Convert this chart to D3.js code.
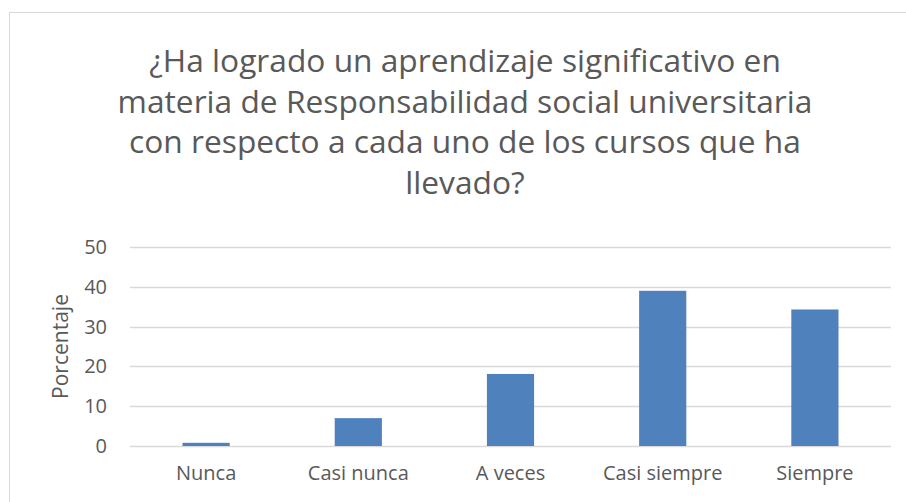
<!DOCTYPE html>
<html>
<head>
<meta charset="utf-8">
<script src="https://cdn.jsdelivr.net/npm/d3@7"></script>
<style>
  body { margin: 0; background: #fff; }
  text { font-family: "Open Sans", sans-serif; fill: #595959; }
</style>
</head>
<body>
<div id="chart"></div>
<script>
"use strict";

// data
var categories = ["Nunca", "Casi nunca", "A veces", "Casi siempre", "Siempre"];
var values = [0.8, 7.0, 18.1, 39.0, 34.3];
var yTicks = [0, 10, 20, 30, 40, 50];
var titleLines = [
  "¿Ha logrado un aprendizaje significativo en",
  "materia de Responsabilidad social universitaria",
  "con respecto a cada uno de los cursos que ha",
  "llevado?"
];
var yLabel = "Porcentaje";

var W = 906, H = 502;
var margin = { top: 247, right: 15, bottom: 56, left: 130 },
    w = W - margin.left - margin.right,
    h = H - margin.top - margin.bottom;

var svg = d3.select("#chart").append("svg")
  .attr("width", W)
  .attr("height", H);

// chart frame
svg.append("rect")
  .attr("x", 9.5).attr("y", 12.5)
  .attr("width", 930).attr("height", 520)
  .attr("fill", "none")
  .attr("stroke", "#d9d9d9")
  .attr("stroke-width", 1);

var x = d3.scaleBand()
  .domain(categories)
  .range([0, w])
  .paddingInner(0.69)
  .paddingOuter(0.345);

var y = d3.scaleLinear()
  .domain([0, 50])
  .range([h, 0]);

var g = svg.append("g")
  .attr("transform", "translate(" + margin.left + "," + margin.top + ")");

// gridlines
g.selectAll(".grid")
  .data(yTicks)
  .enter().append("line")
  .attr("class", "grid")
  .attr("x1", 0).attr("x2", w)
  .attr("y1", function(d) { return Math.round(y(d)) + 0.5; })
  .attr("y2", function(d) { return Math.round(y(d)) + 0.5; })
  .attr("stroke", "#d9d9d9")
  .attr("stroke-width", 1.3);

// bars
g.selectAll(".bar")
  .data(values)
  .enter().append("rect")
  .attr("class", "bar")
  .attr("x", function(d, i) { return x(categories[i]); })
  .attr("width", x.bandwidth())
  .attr("y", function(d) { return y(d); })
  .attr("height", function(d) { return y(0) - y(d); })
  .attr("fill", "#4f81bd");

// y axis labels
var yAxis = d3.axisLeft(y).tickValues(yTicks).tickSize(0).tickPadding(23);
g.append("g").call(yAxis)
  .call(function(s) { s.select(".domain").remove(); })
  .selectAll("text")
  .style("font-family", "'Open Sans', sans-serif")
  .style("font-size", "20px")
  .attr("fill", "#595959");

// x axis labels
var xAxis = d3.axisBottom(x).tickSize(0).tickPadding(20);
g.append("g")
  .attr("transform", "translate(0," + h + ")")
  .call(xAxis)
  .call(function(s) { s.select(".domain").remove(); })
  .selectAll("text")
  .style("font-family", "'Open Sans', sans-serif")
  .style("font-size", "20px")
  .attr("fill", "#595959");

// axis title
svg.append("text")
  .attr("transform", "translate(68," + (margin.top + h / 2) + ") rotate(-90)")
  .attr("text-anchor", "middle")
  .style("font-size", "21px")
  .text(yLabel);

// title, fitted so the widest line is about as wide as the original
var title = svg.append("g").attr("class", "title");
var titleSize = 27;
title.selectAll("text")
  .data(titleLines)
  .enter().append("text")
  .attr("x", 465)
  .attr("y", function(d, i) { return 72 + i * 40.7; })
  .attr("text-anchor", "middle")
  .style("font-size", titleSize + "px")
  .text(function(d) { return d; });

var widest = d3.max(title.selectAll("text").nodes(), function(n) { return n.getComputedTextLength(); });
titleSize = titleSize * 695 / widest;
title.selectAll("text").style("font-size", titleSize + "px");
</script>
</body>
</html>
